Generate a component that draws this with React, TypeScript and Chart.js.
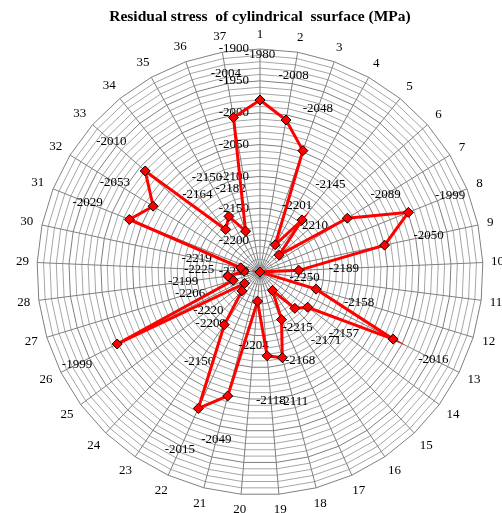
import React, { useEffect, useRef } from "react";
import { Chart, registerables } from "chart.js";

Chart.register(...registerables);

const chartTitle = "Residual stress  of cylindrical  ssurface (MPa)";

const categories = [
  "1", "2", "3", "4", "5", "6", "7", "8", "9", "10",
  "11", "12", "13", "14", "15", "16", "17", "18", "19", "20",
  "21", "22", "23", "24", "25", "26", "27", "28", "29", "30",
  "31", "32", "33", "34", "35", "36", "37",
];

const stressValues = [
  -1980, -2008, -2048, -2201, -2145, -2210, -2089, -1999, -2050, -2189,
  -2250, -2158, -2016, -2157, -2171, -2215, -2168, -2111, -2118, -2204,
  -2049, -2015, -2150, -2209, -2220, -1999, -2206, -2199, -2225, -2219,
  -2029, -2053, -2010, -2164, -2150, -2182, -2004,
];

const axisTicks = [-2250, -2200, -2150, -2100, -2050, -2000, -1950, -1900];

const FONT = '"Liberation Serif", "Times New Roman", serif';

const overlayPlugin = {
  id: "overlayText",
  beforeDatasetsDraw(chart: any) {
    const ctx = chart.ctx;
    const scale = chart.scales.r;
    ctx.save();
    ctx.fillStyle = "#000";
    ctx.textBaseline = "middle";

    // axis tick labels
    ctx.font = `13px ${FONT}`;
    ctx.textAlign = "right";
    axisTicks.forEach((v) => {
      const d = scale.getDistanceFromCenterForValue(v);
      ctx.fillText(String(v), scale.xCenter - 11, scale.yCenter - d);
    });

    // category labels
    ctx.textAlign = "center";
    categories.forEach((c, i) => {
      const a = scale.getIndexAngle(i);
      const w = ctx.measureText(c).width;
      const h = 13;
      const ext = Math.abs(Math.sin(a)) * w / 2 + Math.abs(Math.cos(a)) * h / 2;
      const p = scale.getPointPosition(i, scale.drawingArea + 8 + ext);
      ctx.fillText(c, p.x, p.y);
    });

    // data labels
    stressValues.forEach((v, i) => {
      const d = scale.getDistanceFromCenterForValue(v) + 45;
      const p = scale.getPointPosition(i, d);
      ctx.fillText(String(v), p.x, p.y);
    });

    // title
    ctx.font = `bold 15.5px ${FONT}`;
    ctx.fillText(chartTitle, scale.xCenter, 17);
    ctx.restore();
  },
};

export default function App() {
  const canvasRef = useRef<HTMLCanvasElement | null>(null);

  useEffect(() => {
    if (!canvasRef.current) return;
    const chart = new Chart(canvasRef.current, {
      type: "radar",
      data: {
        labels: categories,
        datasets: [
          {
            data: stressValues,
            borderColor: "#FF0000",
            borderWidth: 3,
            backgroundColor: "#FF0000",
            fill: false,
            tension: 0,
            pointStyle: "rectRot",
            pointRadius: 5,
            pointBackgroundColor: "#FF0000",
            pointBorderColor: "#000000",
            pointBorderWidth: 1,
          },
        ],
      },
      options: {
        responsive: false,
        animation: false,
        devicePixelRatio: 1,
        layout: { padding: { left: 37, right: 19, top: 49, bottom: 18 } },
        plugins: {
          legend: { display: false },
          tooltip: { enabled: false },
          title: { display: false },
        },
        scales: {
          r: {
            min: -2250,
            max: -1900,
            beginAtZero: false,
            startAngle: 0,
            ticks: { display: false, stepSize: 10 },
            grid: {
              lineWidth: 1,
              color: (c: any) =>
                c.tick && Math.round(c.tick.value) % 50 === 0 ? "#7f7f7f" : "#a6a6a6",
            },
            angleLines: { color: "#7f7f7f", lineWidth: 1 },
            pointLabels: { display: false },
          },
        },
      },
      plugins: [overlayPlugin],
    });
    return () => chart.destroy();
  }, []);

  return (
    <div style={{ position: "fixed", left: 0, top: 0, width: 502, height: 513, background: "#fff" }}>
      <canvas ref={canvasRef} width={502} height={513} style={{ display: "block" }} />
    </div>
  );
}
